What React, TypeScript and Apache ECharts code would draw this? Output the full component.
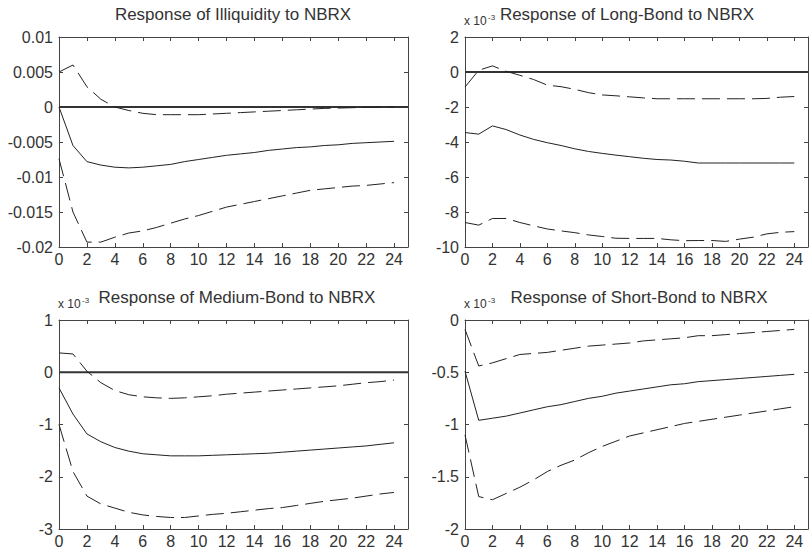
import React, { useEffect, useRef } from "react";
import * as echarts from "echarts";

// Horizon (periods after the shock)
const periods = [0, 1, 2, 3, 4, 5, 6, 7, 8, 9, 10, 11, 12, 13, 14, 15, 16, 17, 18, 19, 20, 21, 22, 23, 24];

// Response of Illiquidity to NBRX
const illiqMid = [0, -0.0055, -0.0078, -0.0083, -0.0086, -0.0087, -0.0086, -0.0084, -0.0082, -0.0078, -0.0075, -0.0072, -0.0069, -0.0067, -0.0065, -0.0062, -0.006, -0.0058, -0.0057, -0.0055, -0.0054, -0.0052, -0.0051, -0.005, -0.0049];
const illiqUpper = [0.005, 0.006, 0.0029, 0.0011, 0.0, -0.0005, -0.0009, -0.0011, -0.0011, -0.0011, -0.0011, -0.001, -0.0009, -0.0008, -0.0007, -0.0006, -0.0005, -0.0004, -0.0003, -0.0002, -0.00015, -0.0001, -0.00005, 0, 0];
const illiqLower = [-0.0074, -0.015, -0.0193, -0.0193, -0.0186, -0.018, -0.0177, -0.0172, -0.0166, -0.016, -0.0155, -0.0149, -0.0143, -0.0139, -0.0135, -0.0131, -0.0127, -0.0123, -0.0119, -0.0117, -0.0115, -0.0113, -0.0112, -0.011, -0.0108];

// Response of Long-Bond to NBRX (x 10^-3)
const longMid = [-3.46, -3.55, -3.08, -3.29, -3.6, -3.85, -4.04, -4.2, -4.39, -4.54, -4.65, -4.75, -4.84, -4.93, -5.0, -5.03, -5.1, -5.2, -5.2, -5.2, -5.2, -5.2, -5.2, -5.2, -5.2];
const longUpper = [-0.86, 0.1, 0.35, 0.04, -0.19, -0.43, -0.75, -0.84, -0.99, -1.18, -1.31, -1.36, -1.42, -1.48, -1.53, -1.53, -1.53, -1.53, -1.53, -1.53, -1.53, -1.53, -1.51, -1.44, -1.4];
const longLower = [-8.6, -8.75, -8.37, -8.37, -8.6, -8.79, -8.97, -9.08, -9.18, -9.31, -9.4, -9.5, -9.51, -9.51, -9.51, -9.59, -9.64, -9.63, -9.63, -9.68, -9.55, -9.44, -9.25, -9.16, -9.12];

// Response of Medium-Bond to NBRX (x 10^-3)
const medMid = [-0.3, -0.8, -1.18, -1.33, -1.44, -1.51, -1.56, -1.58, -1.6, -1.6, -1.6, -1.59, -1.58, -1.57, -1.56, -1.55, -1.53, -1.51, -1.49, -1.47, -1.45, -1.43, -1.41, -1.38, -1.35];
const medUpper = [0.37, 0.35, 0.02, -0.2, -0.35, -0.43, -0.47, -0.49, -0.5, -0.49, -0.47, -0.45, -0.42, -0.4, -0.38, -0.36, -0.34, -0.32, -0.3, -0.28, -0.26, -0.23, -0.2, -0.18, -0.15];
const medLower = [-1.0, -1.9, -2.37, -2.52, -2.6, -2.68, -2.73, -2.76, -2.78, -2.78, -2.75, -2.72, -2.7, -2.67, -2.64, -2.61, -2.59, -2.55, -2.51, -2.47, -2.44, -2.41, -2.37, -2.33, -2.3];

// Response of Short-Bond to NBRX (x 10^-3)
const shortMid = [-0.49, -0.96, -0.94, -0.92, -0.89, -0.86, -0.83, -0.81, -0.78, -0.75, -0.73, -0.7, -0.68, -0.66, -0.64, -0.62, -0.61, -0.59, -0.58, -0.57, -0.56, -0.55, -0.54, -0.53, -0.52];
const shortUpper = [-0.09, -0.44, -0.41, -0.37, -0.33, -0.32, -0.31, -0.29, -0.27, -0.25, -0.24, -0.23, -0.22, -0.2, -0.19, -0.18, -0.17, -0.15, -0.15, -0.14, -0.13, -0.12, -0.11, -0.1, -0.09];
const shortLower = [-1.1, -1.69, -1.72, -1.66, -1.6, -1.53, -1.45, -1.39, -1.34, -1.27, -1.21, -1.16, -1.11, -1.08, -1.05, -1.02, -0.99, -0.97, -0.95, -0.93, -0.91, -0.89, -0.87, -0.85, -0.83];

const titles = [
  "Response of Illiquidity to NBRX",
  "Response of Long-Bond to NBRX",
  "Response of Medium-Bond to NBRX",
  "Response of Short-Bond to NBRX",
];

const yRanges = [
  { min: -0.02, max: 0.01, interval: 0.005 },
  { min: -10, max: 2, interval: 2 },
  { min: -3, max: 1, interval: 1 },
  { min: -2, max: 0, interval: 0.5 },
];

const panels = [
  { mid: illiqMid, upper: illiqUpper, lower: illiqLower, scaled: false },
  { mid: longMid, upper: longUpper, lower: longLower, scaled: true },
  { mid: medMid, upper: medUpper, lower: medLower, scaled: true },
  { mid: shortMid, upper: shortUpper, lower: shortLower, scaled: true },
];

const FONT = "'Liberation Sans', Arial, Helvetica, sans-serif";
const AXIS_COLOR = "#444";
const TEXT_COLOR = "#333";

const grids = [
  { left: 59, top: 37, width: 349, height: 210 },
  { left: 465, top: 37, width: 349, height: 210 },
  { left: 59, top: 320, width: 349, height: 210 },
  { left: 465, top: 320, width: 349, height: 210 },
];

const titlePos = [
  { x: 233, y: 14 },
  { x: 627, y: 14 },
  { x: 237, y: 297 },
  { x: 639, y: 297 },
];

const fmtY = (v: number) => {
  const r = parseFloat(v.toFixed(4));
  return r === 0 ? "0" : String(r);
};

export default function App() {
  const ref = useRef<HTMLDivElement>(null);
  useEffect(() => {
    document.body.style.margin = "0";
    if (!ref.current) return;
    const chart = echarts.init(ref.current, null, { renderer: "svg" });

    const xAxis: any[] = [];
    const yAxis: any[] = [];
    const series: any[] = [];

    grids.forEach((g, i) => {
      const common = {
        gridIndex: i,
        type: "value",
        axisLine: { show: true, onZero: false, lineStyle: { color: AXIS_COLOR, width: 1 } },
        axisTick: { show: true, inside: true, length: 4, lineStyle: { color: AXIS_COLOR, width: 1 } },
        splitLine: { show: false },
      };
      xAxis.push({
        ...common,
        position: "bottom",
        min: 0,
        max: 25,
        interval: 2,
        axisLabel: {
          show: true,
          margin: 4,
          fontSize: 16,
          color: TEXT_COLOR,
          fontFamily: FONT,
          formatter: (v: number) => (v > 24.5 ? "" : String(v)),
        },
      });
      xAxis.push({
        ...common,
        position: "top",
        min: 0,
        max: 25,
        interval: 2,
        axisLabel: { show: false },
      });
      const yr = yRanges[i];
      yAxis.push({
        ...common,
        position: "left",
        min: yr.min,
        max: yr.max,
        interval: yr.interval,
        axisLabel: {
          show: true,
          margin: 6,
          fontSize: 16,
          color: TEXT_COLOR,
          fontFamily: FONT,
          formatter: fmtY,
        },
      });
      yAxis.push({
        ...common,
        position: "right",
        min: yr.min,
        max: yr.max,
        interval: yr.interval,
        axisLabel: { show: false },
      });

      const p = panels[i];
      const mk = (arr: number[]) => periods.map((t, k) => [t, arr[k]]);
      if (yr.max > 0) {
        series.push({
          type: "line",
          xAxisIndex: i * 2,
          yAxisIndex: i * 2,
          data: [[0, 0], [25, 0]],
          symbol: "none",
          lineStyle: { color: "#333", width: 2 },
          silent: true,
        });
      }
      series.push({
        type: "line",
        xAxisIndex: i * 2,
        yAxisIndex: i * 2,
        data: mk(p.mid),
        symbol: "none",
        lineStyle: { color: "#222", width: 1 },
      });
      [p.upper, p.lower].forEach((arr) => {
        series.push({
          type: "line",
          xAxisIndex: i * 2,
          yAxisIndex: i * 2,
          data: mk(arr),
          symbol: "none",
          lineStyle: { color: "#222", width: 1, type: [18, 7] },
        });
      });
    });

    const graphic: any[] = [];
    titles.forEach((t, i) => {
      graphic.push({
        type: "text",
        x: titlePos[i].x,
        y: titlePos[i].y,
        style: {
          text: t,
          fill: TEXT_COLOR,
          font: `17px ${FONT}`,
          textAlign: "center",
          textVerticalAlign: "middle",
        },
      });
      if (panels[i].scaled) {
        const gx = grids[i].left - 1;
        const gy = grids[i].top - 16;
        graphic.push({
          type: "text",
          x: gx,
          y: gy,
          style: {
            text: "x 10",
            fill: TEXT_COLOR,
            font: `12px ${FONT}`,
            textAlign: "left",
            textVerticalAlign: "middle",
          },
        });
        graphic.push({
          type: "text",
          x: gx + 24,
          y: gy - 4,
          style: {
            text: "-3",
            fill: TEXT_COLOR,
            font: `8px ${FONT}`,
            textAlign: "left",
            textVerticalAlign: "middle",
          },
        });
      }
    });

    chart.setOption({
      animation: false,
      backgroundColor: "#fff",
      grid: grids.map((g) => ({ ...g, containLabel: false })),
      xAxis,
      yAxis,
      series,
      graphic,
    });
    return () => chart.dispose();
  }, []);
  return <div ref={ref} style={{ width: 811, height: 549 }} />;
}
